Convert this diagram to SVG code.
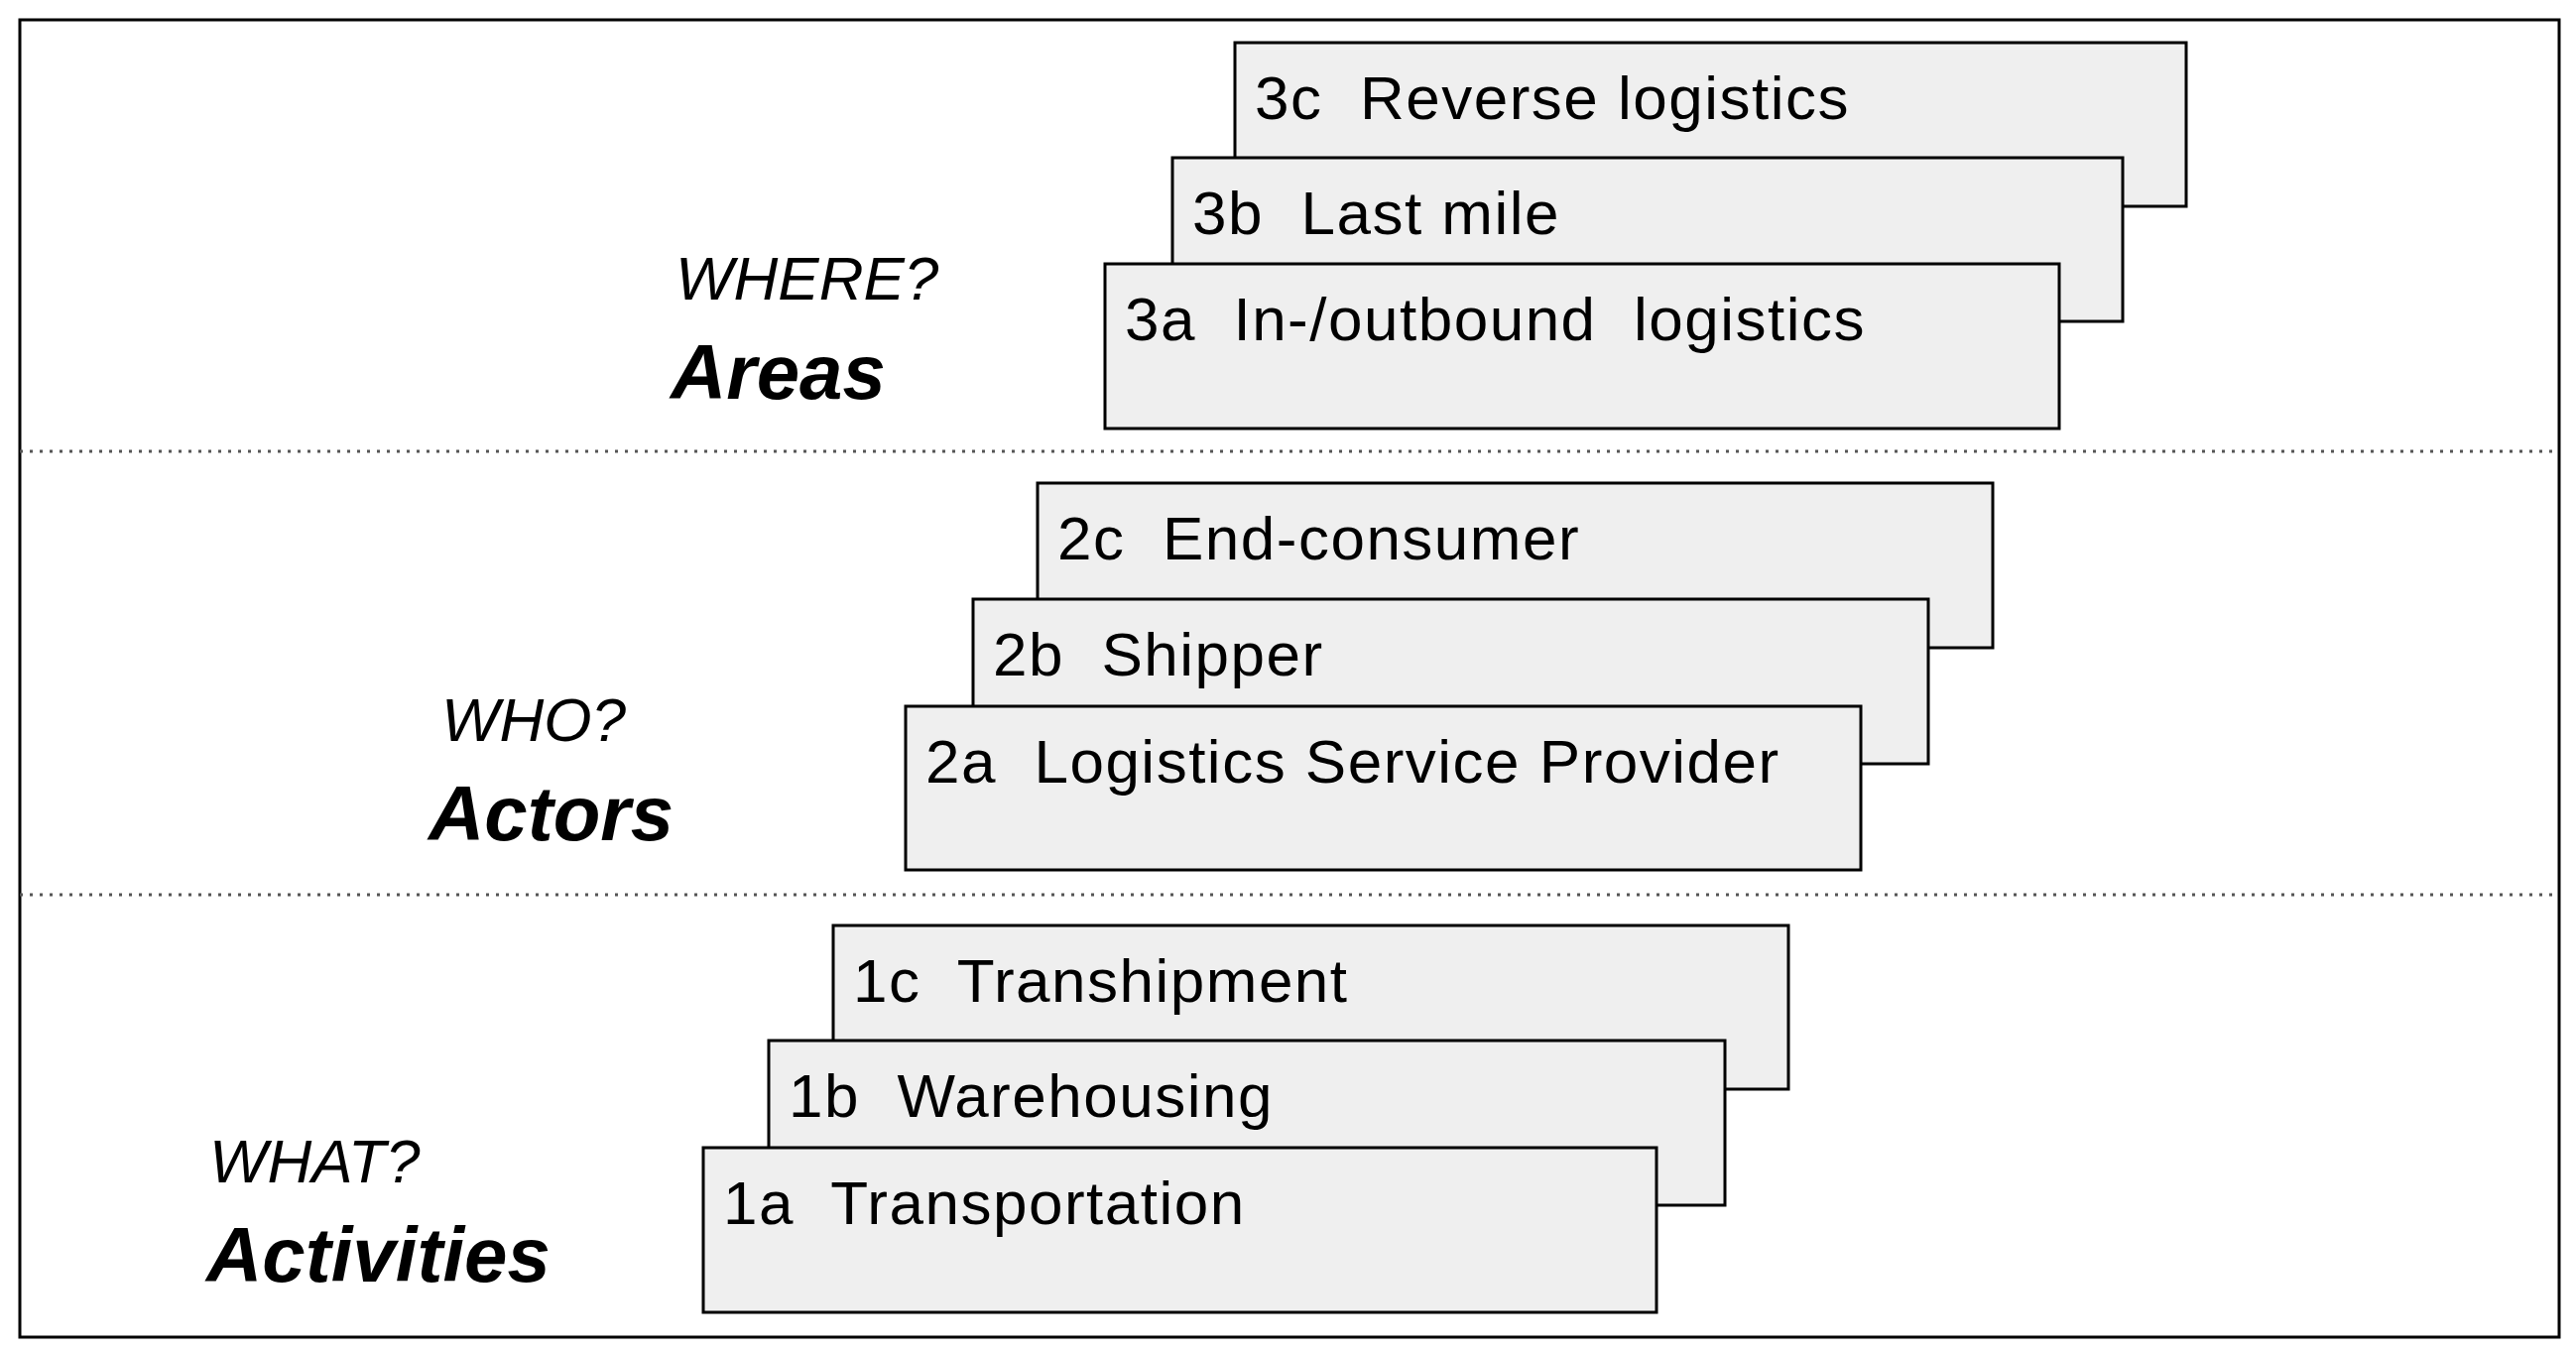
<svg xmlns="http://www.w3.org/2000/svg" width="2597" height="1364" viewBox="0 0 2597 1364">
<style>
.b{fill:#efefef;stroke:#000;stroke-width:3}
.t{font-family:"Liberation Sans",Arial,sans-serif;font-size:62px;letter-spacing:1.5px;fill:#000;white-space:pre}
.q{font-family:"Liberation Sans",Arial,sans-serif;font-size:62px;font-style:italic}
.h{font-family:"Liberation Sans",Arial,sans-serif;font-size:78px;font-style:italic;font-weight:bold}
.d{stroke:#555;stroke-width:3;stroke-dasharray:3 7}
</style>
<rect x="0" y="0" width="2597" height="1364" fill="#fff"/>
<rect x="20" y="20" width="2560" height="1328" fill="none" stroke="#000" stroke-width="3"/>
<g id="connectors">
<line class="d" x1="20" y1="455" x2="2580" y2="455"/>
<line class="d" x1="20" y1="902" x2="2580" y2="902"/>
</g>
<g id="n3c"><rect class="b" x="1245" y="43" width="959" height="165"/><text class="t" x="1265" y="120" xml:space="preserve">3c  Reverse logistics</text></g>
<g id="n3b"><rect class="b" x="1182" y="159" width="958" height="165"/><text class="t" x="1202" y="236" xml:space="preserve">3b  Last mile</text></g>
<g id="n3a"><rect class="b" x="1114" y="266" width="962" height="166"/><text class="t" x="1134" y="343" xml:space="preserve">3a  In-/outbound  logistics</text></g>
<g id="n2c"><rect class="b" x="1046" y="487" width="963" height="166"/><text class="t" x="1066" y="564" xml:space="preserve">2c  End-consumer</text></g>
<g id="n2b"><rect class="b" x="981" y="604" width="963" height="166"/><text class="t" x="1001" y="681" xml:space="preserve">2b  Shipper</text></g>
<g id="n2a"><rect class="b" x="913" y="712" width="963" height="165"/><text class="t" x="933" y="789" xml:space="preserve">2a  Logistics Service Provider</text></g>
<g id="n1c"><rect class="b" x="840" y="933" width="963" height="165"/><text class="t" x="860" y="1010" xml:space="preserve">1c  Transhipment</text></g>
<g id="n1b"><rect class="b" x="775" y="1049" width="964" height="166"/><text class="t" x="795" y="1126" xml:space="preserve">1b  Warehousing</text></g>
<g id="n1a"><rect class="b" x="709" y="1157" width="961" height="166"/><text class="t" x="729" y="1234" xml:space="preserve">1a  Transportation</text></g>
<g id="areas"><text class="q" x="681" y="302">WHERE?</text><text class="h" x="676" y="402">Areas</text></g>
<g id="actors"><text class="q" x="445" y="747">WHO?</text><text class="h" x="432" y="847">Actors</text></g>
<g id="activities"><text class="q" x="211" y="1192">WHAT?</text><text class="h" x="208" y="1292">Activities</text></g>
</svg>
